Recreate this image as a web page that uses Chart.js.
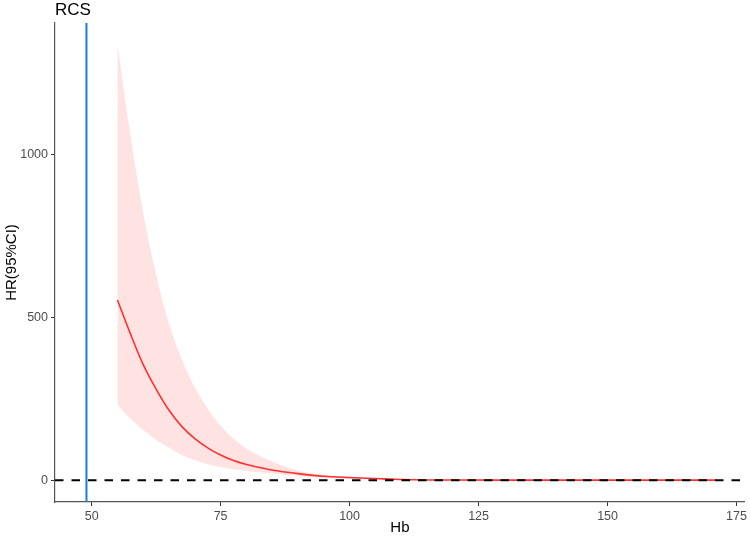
<!DOCTYPE html>
<html>
<head>
<meta charset="utf-8">
<script src="https://cdn.jsdelivr.net/npm/chart.js@4"></script>
<style>
  body { margin: 0; background: #fff; }
  canvas { display: block; }
</style>
</head>
<body>
<canvas id="rcs" width="750" height="540"></canvas>
<script>
// values
const hb = [55, 57.5, 60, 62.5, 65, 67.5, 70, 72.5, 75, 77.5, 80, 82.5, 85, 87.5, 90, 95, 100, 105, 110, 115, 120, 130, 140, 150, 160, 171];
const hr = [553, 450, 355, 280, 215, 165, 128, 100, 78, 61, 49, 40, 32, 26, 21, 13, 9, 6, 3, 1.5, 1.2, 1.0, 1.0, 1.0, 1.0, 1.0];
const hrUpper = [1334, 1060, 820, 630, 480, 370, 285, 220, 168, 128, 98, 76, 58, 42, 30, 17, 11, 7.5, 4, 2.5, 2, 1.6, 1.5, 1.6, 1.8, 2.2];
const hrLower = [232, 190, 155, 125, 100, 78, 62, 50, 41, 34, 29, 25, 21, 17, 14, 8, 5.5, 3.5, 1.5, 1, 0.8, 0.7, 0.7, 0.6, 0.5, 0.4];

const xTicks = [50, 75, 100, 125, 150, 175];
const yTicks = [0, 500, 1000];
const xRange = [42.9, 176.6];
const yRange = [-66, 1402];
const refHR = 1;       // dashed reference line
const cutHb = 49;      // blue vertical line
const titleText = 'RCS';

const pts = (ys) => hb.map((x, i) => ({ x: x, y: ys[i] }));

const tickFont = { family: "'Liberation Sans', Arial, sans-serif", size: 12.5 };
const titleFont = { family: "'Liberation Sans', Arial, sans-serif", size: 15 };

const ctx = document.getElementById('rcs').getContext('2d');

new Chart(ctx, {
    type: 'line',
    data: {
        datasets: [
            {
                // vertical cut line
                data: [{ x: cutHb, y: yRange[0] }, { x: cutHb, y: yRange[1] }],
                borderColor: '#1f7fcc',
                borderWidth: 2,
                pointRadius: 0,
                fill: false
            },
            {
                // HR = 1 reference
                data: [{ x: xRange[0], y: refHR }, { x: xRange[1], y: refHR }],
                borderColor: '#000000',
                borderWidth: 2,
                borderDash: [8.5, 8],
                pointRadius: 0,
                fill: false
            },
            {
                data: pts(hr),
                borderColor: '#ff3030',
                borderWidth: 1.6,
                pointRadius: 0,
                cubicInterpolationMode: 'monotone',
                fill: false
            },
            {
                data: pts(hrUpper),
                borderWidth: 0,
                borderColor: 'rgba(0,0,0,0)',
                backgroundColor: 'rgba(255, 60, 60, 0.15)',
                pointRadius: 0,
                cubicInterpolationMode: 'monotone',
                fill: '+1'
            },
            {
                data: pts(hrLower),
                borderWidth: 0,
                borderColor: 'rgba(0,0,0,0)',
                pointRadius: 0,
                cubicInterpolationMode: 'monotone',
                fill: false
            }
        ]
    },
    options: {
        responsive: false,
        animation: false,
        layout: { padding: { top: 23, right: 2, left: 0, bottom: 0 } },
        plugins: {
            legend: { display: false },
            tooltip: { enabled: false },
            title: { display: false }
        },
        scales: {
            x: {
                type: 'linear',
                min: xRange[0],
                max: xRange[1],
                afterBuildTicks: (scale) => { scale.ticks = xTicks.map(v => ({ value: v })); },
                afterFit: (scale) => { scale.height = 38; },
                grid: { display: true, drawOnChartArea: false, drawTicks: true, tickLength: 4, color: '#333333' },
                border: { display: true, color: '#555555', width: 1.2 },
                ticks: { color: '#4d4d4d', font: tickFont, padding: 3, maxRotation: 0, callback: (v) => String(v) },
                title: { display: true, text: 'Hb', color: '#000000', font: titleFont, padding: { top: 0, bottom: 3 } }
            },
            y: {
                type: 'linear',
                min: yRange[0],
                max: yRange[1],
                afterBuildTicks: (scale) => { scale.ticks = yTicks.map(v => ({ value: v })); },
                afterFit: (scale) => { scale.width = 55; },
                grid: { display: true, drawOnChartArea: false, drawTicks: true, tickLength: 4, color: '#333333' },
                border: { display: true, color: '#555555', width: 1.2 },
                ticks: { color: '#4d4d4d', font: tickFont, padding: 3, callback: (v) => String(v) },
                title: { display: true, text: 'HR(95%CI)', color: '#000000', font: titleFont, padding: { top: 3, bottom: 0 } }
            }
        }
    },
    plugins: [{
        id: 'plotTitle',
        afterDraw: function(chart) {
            const c = chart.ctx;
            c.save();
            c.font = "17px 'Liberation Sans', Arial, sans-serif";
            c.fillStyle = '#000000';
            c.textAlign = 'left';
            c.textBaseline = 'alphabetic';
            c.fillText(titleText, chart.chartArea.left, 15);
            c.restore();
        }
    }]
});
</script>
</body>
</html>
